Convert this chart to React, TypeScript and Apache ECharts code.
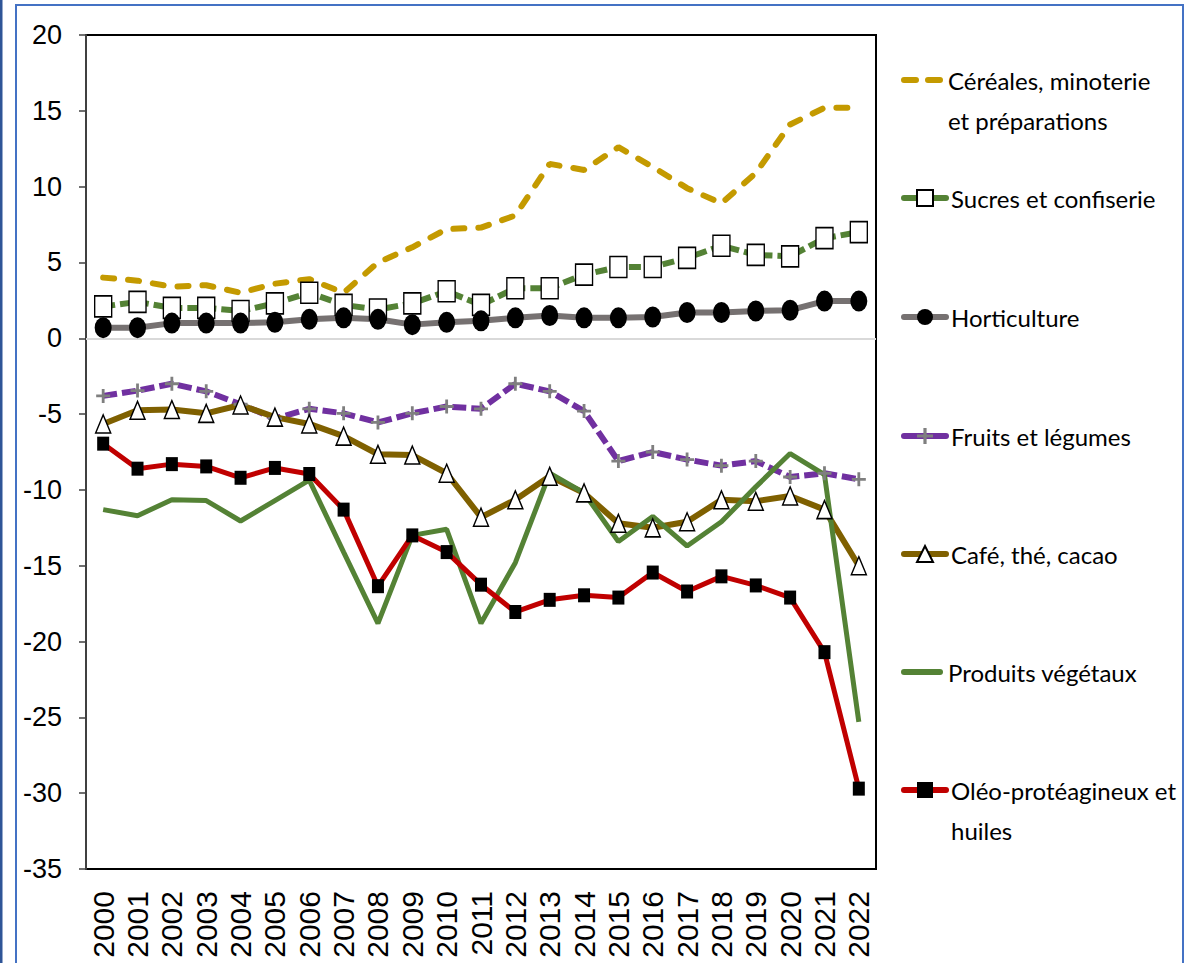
import React, { useEffect, useRef } from "react";
import * as echarts from "echarts";

const years = ["2000","2001","2002","2003","2004","2005","2006","2007","2008","2009","2010","2011","2012","2013","2014","2015","2016","2017","2018","2019","2020","2021","2022"];

const cereales = [4.0, 3.8, 3.4, 3.5, 3.0, 3.6, 3.9, 3.0, 5.0, 6.0, 7.2, 7.3, 8.1, 11.5, 11.1, 12.6, 11.3, 9.9, 8.9, 10.9, 14.1, 15.2, 15.2];
const sucres = [2.1, 2.4, 2.0, 2.0, 1.8, 2.3, 3.0, 2.2, 1.9, 2.3, 3.1, 2.2, 3.3, 3.3, 4.2, 4.7, 4.7, 5.3, 6.1, 5.5, 5.4, 6.6, 7.0];
const horticulture = [0.7, 0.7, 1.0, 1.0, 1.0, 1.05, 1.25, 1.35, 1.25, 0.9, 1.05, 1.15, 1.35, 1.5, 1.35, 1.35, 1.4, 1.7, 1.7, 1.8, 1.85, 2.45, 2.45];
const fruits = [-3.8, -3.45, -3.0, -3.5, -4.35, -5.3, -4.65, -4.95, -5.55, -4.95, -4.5, -4.65, -3.0, -3.5, -4.8, -8.1, -7.5, -8.0, -8.4, -8.1, -9.15, -8.9, -9.3];
const cafe = [-5.65, -4.75, -4.7, -4.95, -4.4, -5.2, -5.65, -6.45, -7.65, -7.7, -8.9, -11.8, -10.65, -9.1, -10.2, -12.2, -12.5, -12.1, -10.65, -10.75, -10.4, -11.3, -15.0];
const produits = [-11.3, -11.7, -10.65, -10.7, -12.05, -10.7, -9.35, -14.1, -18.8, -13.0, -12.6, -18.8, -14.8, -8.9, -10.2, -13.4, -11.75, -13.7, -12.1, -9.8, -7.6, -9.0, -25.3];
const oleo = [-6.95, -8.6, -8.3, -8.45, -9.2, -8.55, -8.95, -11.3, -16.35, -13.0, -14.1, -16.25, -18.05, -17.25, -16.95, -17.1, -15.45, -16.7, -15.7, -16.3, -17.1, -20.7, -29.7];

const seriesNames = [
  "Céréales, minoterie et préparations",
  "Sucres et confiserie",
  "Horticulture",
  "Fruits et légumes",
  "Café, thé, cacao",
  "Produits végétaux",
  "Oléo-protéagineux et huiles",
];
const legendLabels = [
  "Céréales, minoterie\net préparations",
  "Sucres et confiserie",
  "Horticulture",
  "Fruits et légumes",
  "Café, thé, cacao",
  "Produits végétaux",
  "Oléo-protéagineux et\nhuiles",
];

const PLUS = "path://M4,0H6V4H10V6H6V10H4V6H0V4H4Z";
const ELLIPSE = "path://M0,10A10,10 0 1,0 20,10A10,10 0 1,0 0,10Z";
const DASH_ICON = "path://M3,0H15A3,3 0 0,1 15,6H3A3,3 0 0,1 3,0Z M27,0H39A3,3 0 0,1 39,6H27A3,3 0 0,1 27,0Z";
const LINE_ICON = "path://M3,0H39A3,3 0 0,1 39,6H3A3,3 0 0,1 3,0Z";

const LEGEND_FONT = "Lato, 'Noto Sans', sans-serif";
const ARIAL = "'Liberation Sans', Arial, sans-serif";

export default function App() {
  const ref = useRef<HTMLDivElement>(null);
  useEffect(() => {
    if (!ref.current) return;
    const chart = echarts.init(ref.current, undefined, { renderer: "svg" });
    const legendCenters = [80, 198, 317, 436, 554, 672, 790];
    const icons: (string | undefined)[] = [DASH_ICON, undefined, undefined, undefined, undefined, LINE_ICON, undefined];
    const LH = 40;
    const option: any = {
      animation: false,
      backgroundColor: "#ffffff",
      grid: {
        left: 86,
        top: 35,
        right: 325,
        bottom: 94,
        show: true,
        borderColor: "#000000",
        borderWidth: 2,
        backgroundColor: "transparent",
      },
      xAxis: {
        type: "category",
        data: years,
        boundaryGap: true,
        axisLine: { show: true, lineStyle: { color: "#000", width: 2 } },
        axisTick: { show: false },
        axisLabel: {
          rotate: 90,
          fontSize: 30,
          fontFamily: ARIAL,
          color: "#000",
          margin: 22,
          interval: 0,
        },
        splitLine: { show: false },
      },
      yAxis: {
        type: "value",
        min: -35,
        max: 20,
        interval: 5,
        axisLine: { show: true, lineStyle: { color: "#404040", width: 2 } },
        axisTick: { show: true, length: 7, lineStyle: { color: "#404040", width: 1.5 } },
        axisLabel: { fontSize: 27, fontFamily: ARIAL, color: "#000", margin: 24 },
        splitLine: { show: false },
      },
      legend: seriesNames.map((n, i) => {
        const ih = icons[i] ? 6 : 20;
        const twoLine = legendLabels[i].includes("\n");
        const label = twoLine ? "\n" + legendLabels[i] : legendLabels[i];
        const boxH = Math.max(ih, (twoLine ? 3 : 1) * LH);
        const l: any = {
          data: [n],
          left: 901,
          top: legendCenters[i] - boxH / 2,
          padding: 0,
          itemWidth: 42,
          itemHeight: ih,
          selectedMode: false,
          formatter: () => label,
          lineStyle: { width: 6, type: "solid", cap: "round" },
          textStyle: {
            fontFamily: LEGEND_FONT,
            fontSize: 24,
            color: "#000",
            lineHeight: LH,
          },
        };
        if (icons[i]) l.icon = icons[i];
        return l;
      }),
      graphic: [
        { type: "rect", shape: { x: 16, y: 5, width: 1167, height: 1000 }, style: { fill: "none", stroke: "#4472c4", lineWidth: 2 }, silent: true },
        { type: "rect", shape: { x: 0, y: 0, width: 2.5, height: 963 }, style: { fill: "#2f5597" }, silent: true },
      ],
      series: [
        {
          name: seriesNames[0],
          type: "line",
          data: cereales,
          symbol: "none",
          lineStyle: { color: "#c49a00", width: 6, type: [11, 14], cap: "round" },
          itemStyle: { color: "#c49a00" },
          markLine: {
            silent: true,
            symbol: "none",
            label: { show: false },
            lineStyle: { color: "#d9d9d9", width: 2, type: "solid" },
            data: [{ yAxis: 0 }],
            z: 1,
          },
        },
        {
          name: seriesNames[1],
          type: "line",
          data: sucres,
          symbol: "rect",
          symbolSize: [17, 21],
          showAllSymbol: true,
          lineStyle: { color: "#548235", width: 6, type: [12, 5] },
          itemStyle: { color: "#ffffff", borderColor: "#000", borderWidth: 1.5 },
        },
        {
          name: seriesNames[2],
          type: "line",
          data: horticulture,
          symbol: ELLIPSE,
          symbolSize: [17, 21],
          showAllSymbol: true,
          lineStyle: { color: "#767171", width: 6 },
          itemStyle: { color: "#000000" },
        },
        {
          name: seriesNames[3],
          type: "line",
          data: fruits,
          symbol: PLUS,
          symbolSize: [14, 14],
          showAllSymbol: true,
          lineStyle: { color: "#7030a0", width: 6, type: [14, 5] },
          itemStyle: { color: "#7f7f7f" },
        },
        {
          name: seriesNames[4],
          type: "line",
          data: cafe,
          symbol: "triangle",
          symbolSize: [15, 18],
          showAllSymbol: true,
          lineStyle: { color: "#7f6000", width: 6 },
          itemStyle: { color: "#ffffff", borderColor: "#000", borderWidth: 1.5 },
        },
        {
          name: seriesNames[5],
          type: "line",
          data: produits,
          symbol: "none",
          lineStyle: { color: "#548235", width: 5 },
          itemStyle: { color: "#548235" },
        },
        {
          name: seriesNames[6],
          type: "line",
          data: oleo,
          symbol: "rect",
          symbolSize: [12, 14],
          showAllSymbol: true,
          lineStyle: { color: "#c00000", width: 5 },
          itemStyle: { color: "#000000" },
        },
      ],
    };
    chart.setOption(option);
    return () => chart.dispose();
  }, []);
  return (
    <div
      ref={ref}
      style={{ position: "absolute", left: 0, top: 0, width: 1201, height: 963, background: "#fff" }}
    />
  );
}
